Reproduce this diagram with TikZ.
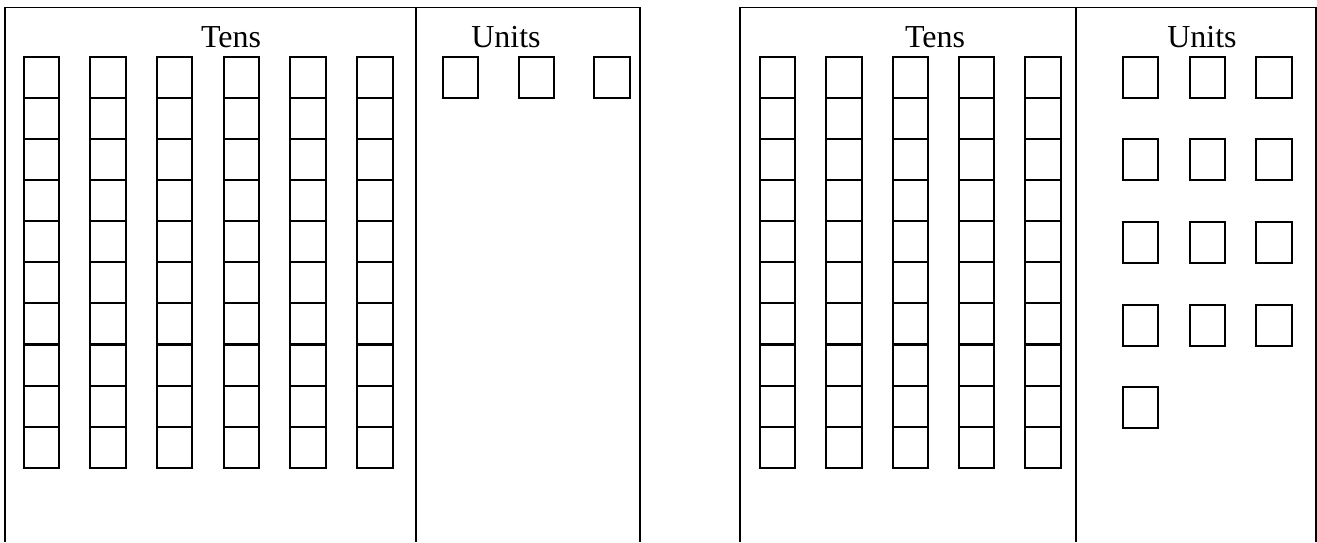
\documentclass[tikz,border=0pt]{standalone}
\usepackage{fontspec}
\setmainfont{Liberation Serif}
\usetikzlibrary{positioning}

\tikzset{
  carre/.style={draw, line width=1pt, minimum width=17.7pt, minimum height=20.5pt, inner sep=0pt},
  cadre/.style={line width=0.7pt},
  titre/.style={anchor=base, inner sep=0pt, font=\fontsize{16}{19}\selectfont}
}

\begin{document}
\begin{tikzpicture}[x=0.5pt,y=-0.5pt]
        \useasboundingbox (0,0) rectangle (1317,542);

        % Cadres
        \draw[cadre] (5,542) -- (5,7.5) -- (640,7.5) -- (640,542);
        \draw[cadre] (416,7.5) -- (416,542);
        \draw[cadre] (740,542) -- (740,7.5) -- (1316,7.5) -- (1316,542);
        \draw[cadre] (1076,7.5) -- (1076,542);

        % Titres
        \node[titre] (tg) at (231,47) {Tens};
        \node[titre] (ug) at (506,47) {Units};
        \node[titre] (td) at (935,47) {Tens};
        \node[titre] (ud) at (1202,47) {Units};

        % Dizaines (gauche)
        \foreach \i in {0,...,5}
          \foreach \j in {0,...,9}
            \node[carre] (dg-\i-\j) at ({41.3+66.7*\i},{77.3+41.1*\j}) {};

        % Unites (gauche)
        \foreach \i in {0,1,2}
          \node[carre] (ug-\i) at ({460.5+75.7*\i},77.3) {};

        % Dizaines (droite)
        \foreach \i in {0,...,4}
          \foreach \j in {0,...,9}
            \node[carre] (dd-\i-\j) at ({777.7+66.3*\i},{77.3+41.1*\j}) {};

        % Unites (droite)
        \foreach \i in {0,1,2}
          \foreach \k in {0,...,3}
            \node[carre] (ud-\i-\k) at ({1140.5+66.8*\i},{77.3+82.6*\k}) {};
        \node[carre] (ud-x) at (1140.5,407.7) {};
    \end{tikzpicture}
\end{document}
